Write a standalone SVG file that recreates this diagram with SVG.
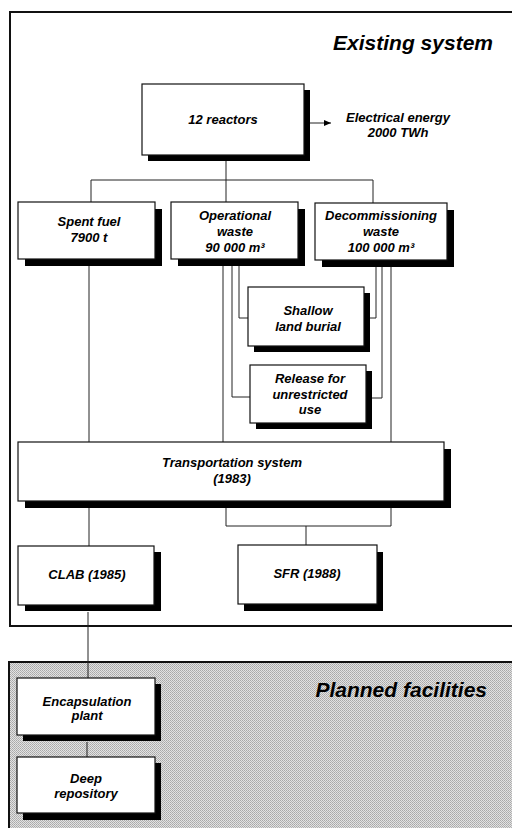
<svg xmlns="http://www.w3.org/2000/svg" width="512" height="828" viewBox="0 0 512 828">
<defs>
<pattern id="stipple" patternUnits="userSpaceOnUse" width="2" height="2">
<rect width="2" height="2" fill="#e2e2e2"/>
<rect x="0" y="0" width="1" height="1" fill="#a8a8a8"/>
<rect x="1" y="1" width="1" height="1" fill="#b4b4b4"/>
</pattern>
<marker id="arr" markerWidth="8" markerHeight="8" refX="7" refY="4" orient="auto" markerUnits="userSpaceOnUse">
<path d="M0,1 L7,4 L0,7 Z" fill="#000"/>
</marker>
</defs>
<style>
.frame{fill:none;stroke:#111;stroke-width:2}
.box{fill:#fff;stroke:#111;stroke-width:1.2}
.sh{fill:#000}
.c{fill:none;stroke:#222;stroke-width:1}
text{font-family:"Liberation Sans",Arial,sans-serif;font-weight:bold;font-style:italic;fill:#000}
.t{font-size:13px;text-anchor:middle}
.h{font-size:21px;text-anchor:end}
</style>
<rect width="512" height="828" fill="#fff"/>

<g id="existing-frame">
<path class="frame" d="M513,12 H10 V626 H513"/>
<text class="h" x="493" y="50">Existing system</text>
</g>

<g id="planned-frame">
<path d="M9,662 H513 V829 H9 Z" fill="url(#stipple)"/>
<path class="frame" d="M513,662 H9 V829"/>
<text class="h" x="487" y="697">Planned facilities</text>
</g>

<g id="connectors">
<line class="c" x1="310" y1="123" x2="331" y2="123" stroke="#000" marker-end="url(#arr)"/>
<path class="c" d="M226,161 V202 M91,180 H373 M91,180 V202 M373,180 V203"/>
<path class="c" d="M89,266 V442"/>
<path class="c" d="M223,266 V442 M232,266 V397 H250 M239,266 V318 H248"/>
<path class="c" d="M376,267 V318 H370 M382,267 V398 H372 M391,267 V442"/>
<path class="c" d="M226,508 V526 H391 V508 M306,526 V545"/>
<path class="c" d="M89,508 V546 M88,612 V678"/>
<path class="c" d="M87,742 V757"/>
</g>

<g id="reactors">
<rect class="sh" x="148" y="90" width="162" height="71"/>
<rect class="box" x="142" y="84" width="162" height="71"/>
<text class="t" x="223" y="124">12 reactors</text>
</g>

<g id="electrical-energy">
<text class="t" x="398" y="122">Electrical energy</text>
<text class="t" x="398" y="137">2000 TWh</text>
</g>

<g id="spent-fuel">
<rect class="sh" x="25" y="209" width="137" height="57"/>
<rect class="box" x="18" y="202" width="137" height="57"/>
<text class="t" x="89" y="226">Spent fuel</text>
<text class="t" x="89" y="242">7900 t</text>
</g>

<g id="operational-waste">
<rect class="sh" x="178" y="209" width="127" height="57"/>
<rect class="box" x="171" y="202" width="127" height="57"/>
<text class="t" x="235" y="220">Operational</text>
<text class="t" x="235" y="236">waste</text>
<text class="t" x="235" y="252">90 000 m³</text>
</g>

<g id="decommissioning-waste">
<rect class="sh" x="322" y="210" width="132" height="57"/>
<rect class="box" x="315" y="203" width="132" height="57"/>
<text class="t" x="381" y="220">Decommissioning</text>
<text class="t" x="381" y="236">waste</text>
<text class="t" x="381" y="252">100 000 m³</text>
</g>

<g id="shallow-land-burial">
<rect class="sh" x="254" y="293" width="116" height="59"/>
<rect class="box" x="248" y="287" width="116" height="59"/>
<text class="t" x="308" y="315">Shallow</text>
<text class="t" x="308" y="331">land burial</text>
</g>

<g id="release">
<rect class="sh" x="256" y="371" width="116" height="58"/>
<rect class="box" x="250" y="365" width="116" height="58"/>
<text class="t" x="310" y="383">Release for</text>
<text class="t" x="310" y="399">unrestricted</text>
<text class="t" x="310" y="414">use</text>
</g>

<g id="transportation">
<rect class="sh" x="25" y="449" width="426" height="59"/>
<rect class="box" x="18" y="442" width="426" height="59"/>
<text class="t" x="232" y="467">Transportation system</text>
<text class="t" x="232" y="483">(1983)</text>
</g>

<g id="clab">
<rect class="sh" x="25" y="552" width="136" height="59"/>
<rect class="box" x="18" y="546" width="136" height="59"/>
<text class="t" x="87" y="579">CLAB (1985)</text>
</g>

<g id="sfr">
<rect class="sh" x="244" y="552" width="139" height="59"/>
<rect class="box" x="238" y="545" width="139" height="59"/>
<text class="t" x="307" y="578">SFR (1988)</text>
</g>

<g id="encapsulation">
<rect class="sh" x="23" y="684" width="138" height="57"/>
<rect class="box" x="17" y="678" width="138" height="57"/>
<text class="t" x="87" y="706">Encapsulation</text>
<text class="t" x="87" y="720">plant</text>
</g>

<g id="deep-repository">
<rect class="sh" x="23" y="763" width="138" height="57"/>
<rect class="box" x="17" y="757" width="138" height="56"/>
<text class="t" x="86" y="783">Deep</text>
<text class="t" x="86" y="798">repository</text>
</g>
</svg>
